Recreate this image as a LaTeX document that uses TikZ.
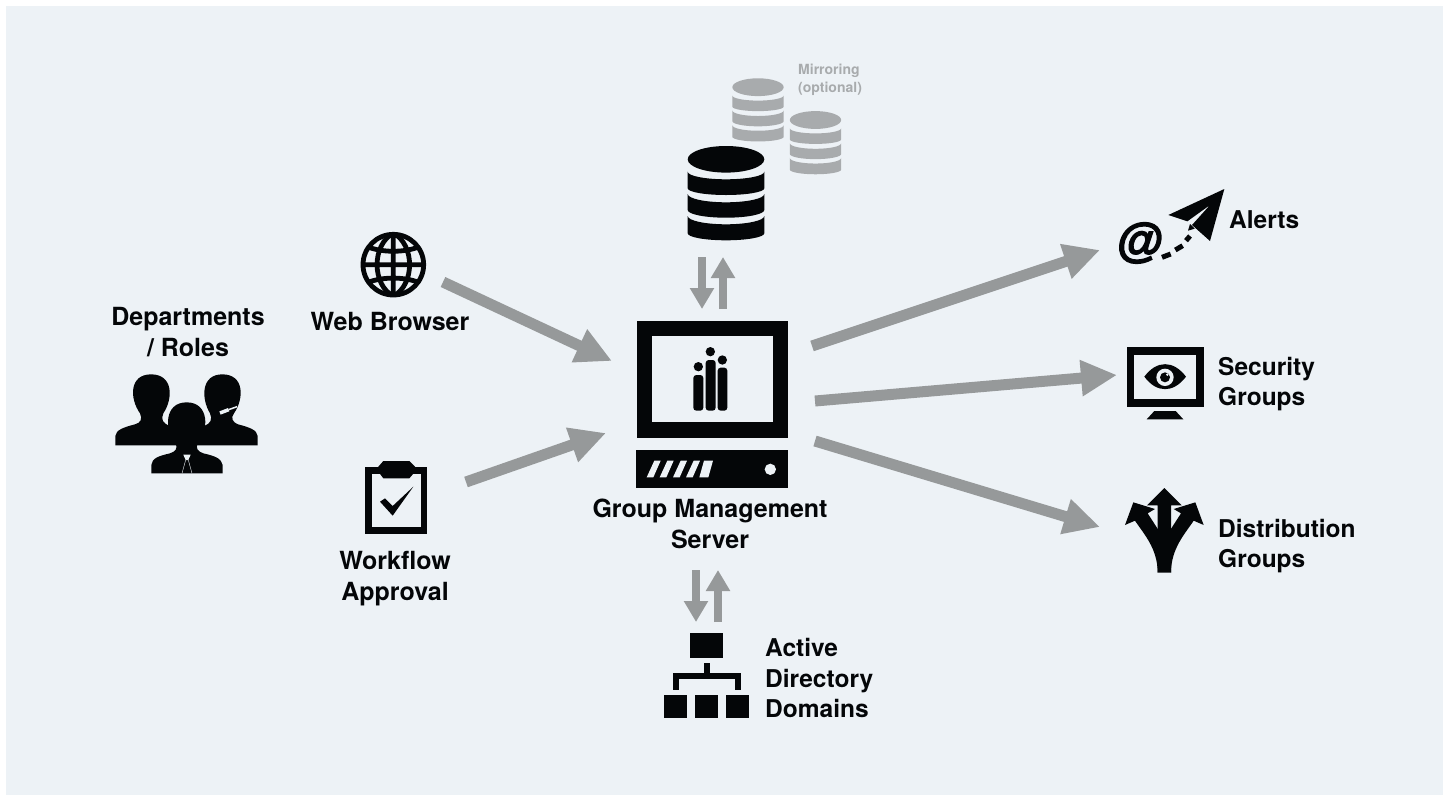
\documentclass[tikz,border=0pt]{standalone}
\usepackage{fontspec}
\setmainfont{TeX Gyre Heros}
\newfontface\atface[FakeBold=3,FakeSlant=0.1]{Liberation Sans Bold}
\usetikzlibrary{arrows.meta}
\definecolor{pagebg}{HTML}{EDF2F6}
\definecolor{arrowgrey}{HTML}{96999A}
\definecolor{ink}{HTML}{040608}
\definecolor{fadegrey}{HTML}{A8ABAD}
\tikzset{
  bigarrow/.style={draw=arrowgrey,line width=11pt,-{Triangle[length=36pt,width=34pt]}},
  smallarrow/.style={draw=arrowgrey,line width=8pt,-{Triangle[length=21pt,width=23pt]}},
  label/.style={font=\fontsize{25}{31}\selectfont\bfseries,text=ink,align=center,inner sep=0pt},
  leftlabel/.style={font=\fontsize{24.5}{30.5}\selectfont\bfseries,text=ink,inner sep=0pt,align=left,anchor=west},
  faded/.style={font=\fontsize{14}{18}\selectfont\bfseries,text=fadegrey,align=left,inner sep=0pt,anchor=west},
  zoomed/.style={scale=1/3}
}
% one cylinder band: top edge y, top centre y, bottom edge y, bottom centre y
\newcommand{\dbband}[5]{%
  \fill[#5] (-38.3,#1) .. controls (-38.3,{#1+.5523*(#2-#1)}) and (-21.15,#2) .. (0,#2)
     .. controls (21.15,#2) and (38.3,{#1+.5523*(#2-#1)}) .. (38.3,#1)
     -- (38.3,#3) .. controls (38.3,{#3+.5523*(#4-#3)}) and (21.15,#4) .. (0,#4)
     .. controls (-21.15,#4) and (-38.3,{#3+.5523*(#4-#3)}) .. (-38.3,#3) -- cycle;}
\newcommand{\dbicon}[4]{%
  \begin{scope}[shift={(#1,#2)},scale=#3]
    \fill[#4] (0,0) ellipse[x radius=38.3,y radius=13.3];
    \dbband{12.4}{20}{29}{35.7}{#4}
    \dbband{34.7}{43}{50.7}{58.4}{#4}
    \dbband{56.7}{65}{74}{81}{#4}
  \end{scope}}
\begin{document}
\begin{tikzpicture}[x=1pt,y=-1pt]
\useasboundingbox (0,0) rectangle (1449,796);
\fill[white] (0,0) rectangle (1449,796);
\fill[pagebg] (6,6) rectangle (1443,795);

% databases
\dbicon{758}{87.2}{0.67}{fadegrey}
\dbicon{815.5}{120}{0.67}{fadegrey}
\dbicon{726}{159.3}{1}{ink}
\node[faded] (mirror) at (798,80) {Mirroring\\(optional)};

% server
\begin{scope}[shift={(620,310)},zoomed]
  \fill[ink] (50,33) rectangle (505,384);
  \fill[pagebg] (97,79) rectangle (458,337);
  \fill[ink,rounded corners=3pt] (220,195) rectangle (250,302);
  \fill[ink,rounded corners=3pt] (257,150) rectangle (287,302);
  \fill[ink,rounded corners=3pt] (293,173) rectangle (322,302);
  \fill[ink] (235,170) circle[radius=14] (271,125) circle[radius=14] (307,150) circle[radius=14];
  \fill[ink] (49,420) rectangle (505,533);
  \foreach \dx in {0,39,79,118}
    \fill[pagebg] (80+\dx,502) -- (103+\dx,452) -- (122+\dx,452) -- (100+\dx,502) -- cycle;
  \fill[pagebg] (238,502) -- (252,452) -- (279,452) -- (265,502) -- cycle;
  \fill[pagebg] (451,478) circle[radius=17];
\end{scope}
\node[label] (server) at (710,524) {Group Management\\Server};

% people
\begin{scope}[shift={(90,290)},zoomed]
  \fill[ink] (76,466) -- (76,438) .. controls (78,420) and (100,412) .. (135,403)
    .. controls (152,398) and (158,388) .. (150,370)
    .. controls (118,325) and (118,253) .. (183,253)
    .. controls (250,253) and (250,325) .. (220,370)
    .. controls (212,388) and (218,400) .. (240,408) -- (300,466) -- cycle;
  \fill[ink] (503,466) -- (503,438) .. controls (501,420) and (479,412) .. (444,403)
    .. controls (430,398) and (420,385) .. (432,370)
    .. controls (463,325) and (463,253) .. (397,253)
    .. controls (333,253) and (333,325) .. (360,370)
    .. controls (368,388) and (362,400) .. (343,408) -- (280,466) -- cycle;
  \fill[ink] (184,550) -- (184,525) .. controls (186,505) and (205,498) .. (240,490)
    .. controls (258,484) and (262,475) .. (258,462)
    .. controls (222,420) and (222,337) .. (290,337)
    .. controls (358,337) and (358,420) .. (322,462)
    .. controls (318,475) and (322,484) .. (340,490)
    .. controls (375,498) and (394,505) .. (398,525) -- (398,550) -- cycle;
  \fill[pagebg] (280,494) -- (302,494) -- (295,510) -- (287,510) -- cycle;
  \draw[pagebg,line width=0.4pt] (287,510) -- (276,550) (295,510) -- (306,550);
  \draw[pagebg,line width=3.5pt] (390,369) -- (416,359);
  \draw[pagebg,line width=1.5pt] (416,359) -- (441,350);
\end{scope}
\node[label] (roles) at (188,332.5) {Departments\\/ Roles};

% globe
\begin{scope}[shift={(350,225)},zoomed]
  \begin{scope}
    \clip (130,119) circle[radius=95];
    \draw[ink,line width=4.8pt]
      (130,20) -- (130,220)
      (30,119) -- (230,119)
      (130,24) .. controls (65,60) and (65,178) .. (130,214)
      (130,24) .. controls (195,60) and (195,178) .. (130,214)
      (40,60) .. controls (90,85) and (170,85) .. (220,60)
      (40,178) .. controls (90,153) and (170,153) .. (220,178);
  \end{scope}
  \draw[ink,line width=4.8pt] (130,119) circle[radius=91];
\end{scope}
\node[label] (web) at (390,321) {Web Browser};

% clipboard
\begin{scope}[shift={(350,450)},zoomed]
  \fill[ink] (45,50) rectangle (232,252);
  \fill[pagebg] (65,72) rectangle (212,232);
  \fill[ink] (85,50) -- (100,33) -- (178,33) -- (195,50) -- (195,65) -- (178,85) -- (100,85) -- (85,65) -- cycle;
  \fill[ink] (90,155) -- (105,145) -- (128,168) -- (190,110) -- (128,197) -- cycle;
\end{scope}
\node[label] (workflow) at (395,579) {Workflow\\Approval};

% alerts
\node[inner sep=0pt,text=ink,font=\fontsize{47}{47}\selectfont\atface] (at) at (1139,243) {@};
\begin{scope}[shift={(1100,180)},zoomed]
  \draw[ink,line width=5pt] (186,232) -- (212,222) (226,210) -- (248,197) (258,182) -- (270,168);
  \fill[ink] (373,27) -- (205,105) -- (262,124) -- (330,75) -- (276,135) -- (330,183) -- cycle;
  \fill[ink] (264,152) -- (270,132) -- (284,146) -- cycle;
\end{scope}
\node[leftlabel] (alerts) at (1229,220) {Alerts};

% security
\begin{scope}[shift={(1110,340)},zoomed]
  \fill[ink] (50,22) rectangle (282,200);
  \fill[pagebg] (72,45) rectangle (258,177);
  \fill[ink] (103,110) .. controls (140,60) and (190,60) .. (228,110)
    .. controls (190,160) and (140,160) .. (103,110) -- cycle;
  \fill[pagebg] (165,112) circle[radius=26];
  \fill[ink] (165,112) circle[radius=15];
  \fill[pagebg] (172,104) circle[radius=4];
  \fill[ink] (110,238) -- (133,213) -- (197,213) -- (220,238) -- cycle;
\end{scope}
\node[leftlabel] (security) at (1218,384) {Security\\Groups};

% distribution
\begin{scope}[shift={(1110,480)},zoomed]
  \fill[ink] (45,135) -- (70,67) -- (135,87) -- (113,100) -- (144,148) -- (163,200) -- (143,278)
    .. controls (143,205) and (100,160) .. (75,122) -- cycle;
  \fill[ink] (281,135) -- (256,67) -- (191,87) -- (213,100) -- (182,148) -- (163,200) -- (183,278)
    .. controls (183,205) and (226,160) .. (251,122) -- cycle;
  \fill[ink] (163,24) -- (215,76) -- (183,76) -- (183,278) -- (143,278) -- (143,76) -- (111,76) -- cycle;
\end{scope}
\node[leftlabel] (distribution) at (1218,546) {Distribution\\Groups};

% active directory
\begin{scope}[shift={(650,560)},zoomed]
  \fill[ink] (121,220) rectangle (220,294);
  \fill[ink] (161,310) rectangle (180,340);
  \fill[ink] (68,338) rectangle (272,358);
  \fill[ink] (68,338) rectangle (86,390);
  \fill[ink] (254,338) rectangle (272,390);
  \fill[ink] (43,405) rectangle (112,473);
  \fill[ink] (136,405) rectangle (204,473);
  \fill[ink] (229,405) rectangle (297,473);
\end{scope}
\node[leftlabel] (domains) at (765,678) {Active\\Directory\\Domains};

% connector ends
\coordinate (webOut) at (443,282);
\coordinate (serverW1) at (612,361);
\coordinate (wfOut) at (466,482);
\coordinate (serverW2) at (606,433);
\coordinate (serverE1) at (812,346);
\coordinate (alertsIn) at (1100,250);
\coordinate (serverE2) at (815,401);
\coordinate (securityIn) at (1117,375);
\coordinate (serverE3) at (815,441);
\coordinate (distIn) at (1100,527);
\coordinate (dbDownA) at (702,257);
\coordinate (srvTopA) at (702,309);
\coordinate (srvTopB) at (723,309);
\coordinate (dbDownB) at (723,257);
\coordinate (srvBotA) at (696,570);
\coordinate (adTopA) at (696,622);
\coordinate (adTopB) at (718,622);
\coordinate (srvBotB) at (718,570);

\draw[bigarrow] (webOut) -- (serverW1);
\draw[bigarrow] (wfOut) -- (serverW2);
\draw[bigarrow] (serverE1) -- (alertsIn);
\draw[bigarrow] (serverE2) -- (securityIn);
\draw[bigarrow] (serverE3) -- (distIn);
\draw[smallarrow] (dbDownA) -- (srvTopA);
\draw[smallarrow] (srvTopB) -- (dbDownB);
\draw[smallarrow] (srvBotA) -- (adTopA);
\draw[smallarrow] (adTopB) -- (srvBotB);
\end{tikzpicture}
\end{document}
